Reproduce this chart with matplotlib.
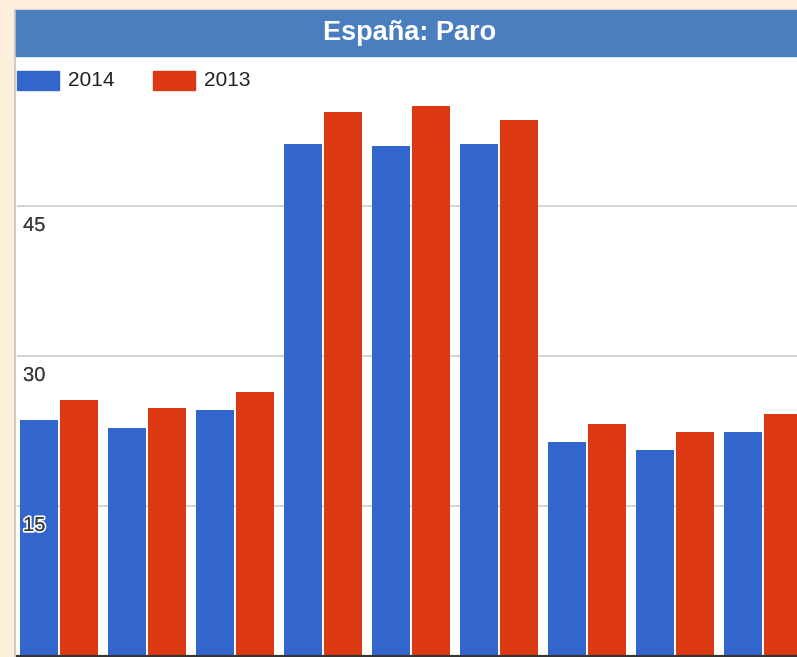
import matplotlib.pyplot as plt
import matplotlib.patches as mpatches
import matplotlib.patheffects as pe
import numpy as np

plt.rcParams['font.family'] = ['Liberation Sans', 'DejaVu Sans']

# data
categories = ['1', '2', '3', '4', '5', '6', '7', '8', '9']
paro_2014 = [23.6, 22.8, 24.6, 51.2, 51.0, 51.2, 21.4, 20.6, 22.4]
paro_2013 = [25.6, 24.8, 26.4, 54.4, 55.0, 53.6, 23.2, 22.4, 24.2]
series_names = ['2014', '2013']
series_colors = ['#3366cc', '#dc3912']
yticks = [15, 30, 45]

W, H = 797, 657
fig = plt.figure(figsize=(W / 100, H / 100), dpi=100)
fig.patch.set_facecolor('white')


def px(x, y):
    """pixel position (from top-left) -> figure coords"""
    return x / W, 1 - y / H


# cream frame on left and top
fig.add_artist(mpatches.Rectangle((0, 0), 14 / W, 1, transform=fig.transFigure,
                                  color='#fdefdc', zorder=0))
fig.add_artist(mpatches.Rectangle(px(0, 10), 1, 10 / H, transform=fig.transFigure,
                                  color='#fdefdc', zorder=0))
fig.add_artist(plt.Line2D([15 / W, 15 / W], [0, 1 - 10 / H], transform=fig.transFigure,
                          color='#c8c4c0', lw=1.2))

# header bar
fig.add_artist(mpatches.Rectangle(px(15, 56), 1, 46 / H, transform=fig.transFigure,
                                  color='#4a7ebf', zorder=1))
fig.text(*px(410, 33), 'España: Paro', color='white', fontsize=19.5,
         fontweight='bold', ha='center', va='center')

ax = fig.add_axes([17 / W, 1 / H, 780 / W, 600 / H])
x = np.arange(len(categories))
w = 38 / 88
off = 20 / 88
ax.bar(x - off, paro_2014, width=w, color=series_colors[0], zorder=2)
ax.bar(x + off, paro_2013, width=w, color=series_colors[1], zorder=2)

ax.set_xlim((17 - 59) / 88, (797 - 59) / 88)
ax.set_ylim(0, 60)
ax.set_yticks(yticks)
ax.yaxis.grid(True, color='#cccccc', lw=1.2, zorder=1)
ax.set_yticklabels([])
ax.tick_params(length=0)
ax.set_xticks([])
for s in ['top', 'right', 'left']:
    ax.spines[s].set_visible(False)
ax.spines['bottom'].set_color('#333333')
ax.spines['bottom'].set_linewidth(1.5)

for t in yticks:
    ax.text(6 / 780, t - 1.0, str(t), transform=ax.get_yaxis_transform(),
            fontsize=14.5, color='#3a3a3a', ha='left', va='top', zorder=3,
            path_effects=[pe.withStroke(linewidth=2.5, foreground='white'),
                          pe.Normal()])

# legend, drawn by hand to match the spacing of the original
for i, (name, col) in enumerate(zip(series_names, series_colors)):
    x0 = 17 + i * 136
    fig.add_artist(mpatches.Rectangle(px(x0, 90), 42 / W, 19 / H,
                                      transform=fig.transFigure, color=col))
    fig.text(*px(x0 + 51, 81), name, fontsize=15, color='#222222',
             ha='left', va='center')

fig.savefig('out.png', dpi=100)
